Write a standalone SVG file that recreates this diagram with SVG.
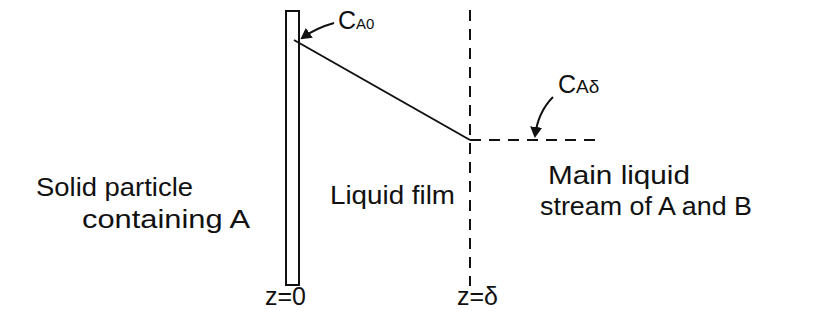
<svg xmlns="http://www.w3.org/2000/svg" width="827" height="331" viewBox="0 0 827 331">
<style>
.t{font-family:"Liberation Sans",Arial,sans-serif;font-size:25px;fill:#111}
.s{stroke:#111;stroke-width:2;fill:none}
.d{stroke:#111;stroke-width:2;fill:none;stroke-dasharray:11 8}
</style>
<defs>
<marker id="ah" markerWidth="12" markerHeight="12" refX="9" refY="6" orient="auto" markerUnits="userSpaceOnUse">
<path d="M0,0 L11,6 L0,12 Z" fill="#111"/>
</marker>
</defs>
<rect width="827" height="331" fill="#fff"/>
<g id="particle-wall">
<rect x="286" y="11" width="13" height="274" class="s"/>
</g>
<g id="film-boundary">
<line x1="470" y1="10" x2="470" y2="286" class="d"/>
</g>
<g id="connectors">
<line x1="294" y1="40" x2="470" y2="140" class="s"/>
<line x1="470" y1="140" x2="602" y2="140" class="d"/>
<path d="M334,23 Q316,28 302,38" class="s" marker-end="url(#ah)"/>
<path d="M553,97 Q538,112 535,136" class="s" marker-end="url(#ah)"/>
</g>
<g id="labels">
<text x="338" y="29" class="t" font-size="21">C<tspan font-size="15">A0</tspan></text>
<text x="558" y="93" class="t" font-size="27">C<tspan font-size="19">Aδ</tspan></text>
<text x="36" y="196" class="t" textLength="157" lengthAdjust="spacingAndGlyphs">Solid particle</text>
<text x="82" y="228" class="t" textLength="168" lengthAdjust="spacingAndGlyphs">containing A</text>
<text x="330" y="204" class="t" textLength="125" lengthAdjust="spacingAndGlyphs">Liquid film</text>
<text x="548" y="184" class="t" textLength="142" lengthAdjust="spacingAndGlyphs">Main liquid</text>
<text x="540" y="215" class="t" textLength="212" lengthAdjust="spacingAndGlyphs">stream of A and B</text>
<text x="265" y="305" class="t" font-size="19">z=0</text>
<text x="457" y="305" class="t" font-size="19">z=δ</text>
</g>
</svg>
